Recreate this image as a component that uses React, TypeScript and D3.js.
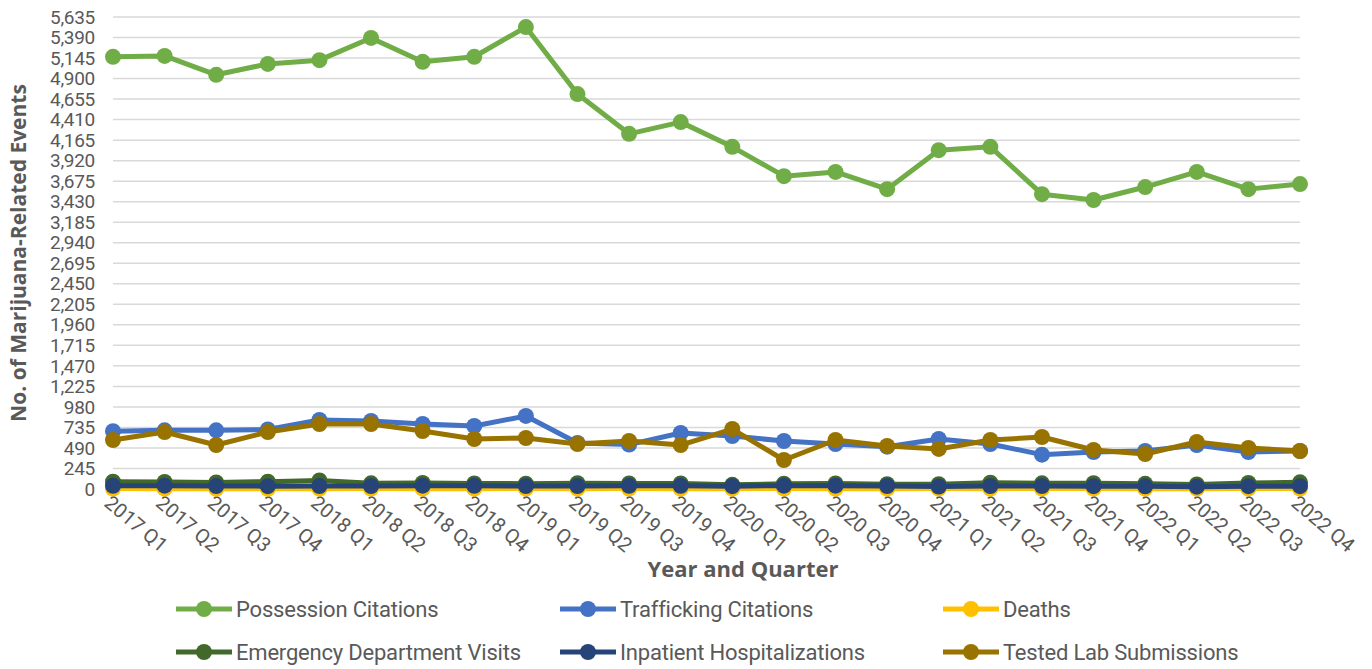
import React from 'react';
import * as d3 from 'd3';

const quarters = [
  '2017 Q1', '2017 Q2', '2017 Q3', '2017 Q4',
  '2018 Q1', '2018 Q2', '2018 Q3', '2018 Q4',
  '2019 Q1', '2019 Q2', '2019 Q3', '2019 Q4',
  '2020 Q1', '2020 Q2', '2020 Q3', '2020 Q4',
  '2021 Q1', '2021 Q2', '2021 Q3', '2021 Q4',
  '2022 Q1', '2022 Q2', '2022 Q3', '2022 Q4',
];

const possession = [5160, 5170, 4945, 5075, 5120, 5385, 5100, 5160, 5515, 4715, 4240, 4380, 4085, 3735, 3785, 3580, 4045, 4085, 3520, 3450, 3605, 3785, 3580, 3640];
const trafficking = [690, 700, 700, 710, 825, 812, 776, 752, 872, 549, 530, 669, 633, 573, 537, 505, 597, 537, 410, 442, 454, 525, 442, 454];
const deaths = [5, 4, 3, 3, 4, 5, 4, 4, 5, 4, 5, 4, 4, 5, 4, 4, 5, 4, 5, 5, 4, 4, 5, 5];
const edVisits = [88, 85, 78, 88, 102, 68, 72, 66, 64, 70, 67, 66, 50, 63, 66, 58, 58, 76, 68, 70, 62, 55, 72, 80];
const inpatient = [38, 40, 36, 34, 36, 36, 40, 38, 36, 36, 38, 38, 34, 40, 40, 36, 30, 36, 36, 34, 32, 28, 34, 34];
const labSubmissions = [585, 680, 525, 680, 776, 776, 692, 597, 609, 537, 573, 525, 716, 346, 585, 513, 478, 585, 621, 466, 418, 561, 490, 454];

const yTicks = d3.range(0, 5636, 245);

const series = [
  { name: 'Possession Citations', values: possession, color: '#70AD47' },
  { name: 'Trafficking Citations', values: trafficking, color: '#4472C4' },
  { name: 'Deaths', values: deaths, color: '#FFC000' },
  { name: 'Emergency Department Visits', values: edVisits, color: '#43682B' },
  { name: 'Inpatient Hospitalizations', values: inpatient, color: '#264478' },
  { name: 'Tested Lab Submissions', values: labSubmissions, color: '#997300' },
];

const width = 1372;
const height = 669;
const margin = { left: 113, right: 72, top: 17, bottom: 180 };
const font = 'Roboto, sans-serif';
const titleFont = '"Open Sans", sans-serif';
const textColor = '#595959';

const App = () => {
  const x = d3.scalePoint<string>()
    .domain(quarters)
    .range([margin.left, width - margin.right]);
  const y = d3.scaleLinear()
    .domain([0, 5635])
    .range([height - margin.bottom, margin.top]);

  const line = d3.line<number>()
    .x((_, i) => x(quarters[i]) as number)
    .y((d) => y(d));

  const legendCols = [176, 560, 943];
  const legendRows = [609, 652];

  return (
    <svg width={width} height={height} style={{ position: 'absolute', left: 0, top: 0, background: '#fff' }}>
      {/* grid + y labels */}
      {yTicks.map((t) => (
        <g key={t}>
          <line x1={margin.left} x2={width - margin.right} y1={y(t)} y2={y(t)} stroke="#D9D9D9" strokeWidth={1.5} />
          <text x={95} y={y(t)} dy="0.35em" textAnchor="end" fontFamily={font} fontSize={19} fill={textColor} letterSpacing={-0.3}>
            {d3.format(',')(t)}
          </text>
        </g>
      ))}

      {/* x tick labels */}
      {quarters.map((q) => (
        <text
          key={q}
          transform={`translate(${(x(q) as number) - 10},${y(0) + 16}) rotate(40)`}
          fontFamily={font}
          fontSize={20}
          fill={textColor}
        >
          {q}
        </text>
      ))}

      {/* series */}
      {series.map((s) => (
        <g key={s.name}>
          <path d={line(s.values) || ''} fill="none" stroke={s.color} strokeWidth={5} strokeLinejoin="round" />
          {s.values.map((v, i) => (
            <circle key={i} cx={x(quarters[i]) as number} cy={y(v)} r={8} fill={s.color} />
          ))}
        </g>
      ))}

      {/* axis titles */}
      <text
        transform={`translate(26,${(y(0) + y(5635)) / 2}) rotate(-90)`}
        textAnchor="middle"
        fontFamily={titleFont}
        fontWeight="bold"
        fontSize={21}
        fill={textColor}
      >
        No. of Marijuana-Related Events
      </text>
      <text x={743} y={577} textAnchor="middle" fontFamily={titleFont} fontWeight="bold" fontSize={22} fill={textColor}>
        Year and Quarter
      </text>

      {/* legend */}
      {series.map((s, i) => {
        const lx = legendCols[i % 3];
        const ly = legendRows[Math.floor(i / 3)];
        return (
          <g key={s.name}>
            <line x1={lx} x2={lx + 56} y1={ly} y2={ly} stroke={s.color} strokeWidth={5} />
            <circle cx={lx + 28} cy={ly} r={8} fill={s.color} />
            <text x={lx + 60} y={ly} dy="0.35em" fontFamily={font} fontSize={22} fill={textColor} letterSpacing={-0.2}>
              {s.name}
            </text>
          </g>
        );
      })}
    </svg>
  );
};

export default App;
